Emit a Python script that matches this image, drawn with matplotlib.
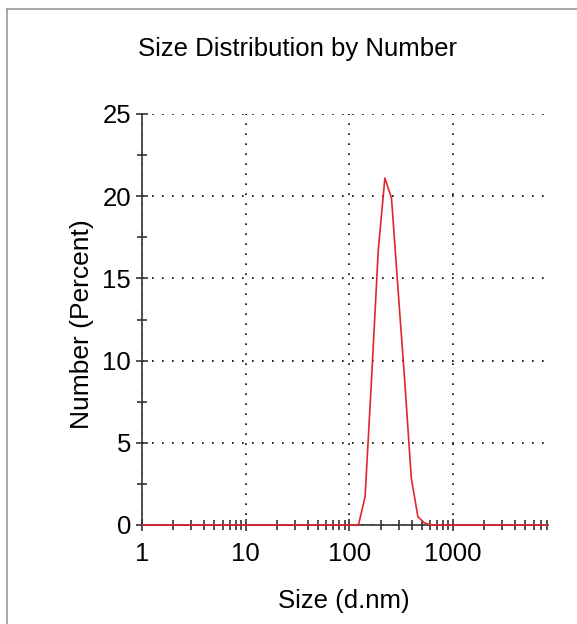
import matplotlib
matplotlib.use("Agg")
import matplotlib.pyplot as plt
from matplotlib.lines import Line2D
from matplotlib.patches import Rectangle
from matplotlib.ticker import FixedLocator, NullFormatter
import numpy as np

plt.rcParams['font.family'] = ['Liberation Sans', 'DejaVu Sans']

# size bins (d.nm) and number distribution (%)
sizes = [0.4, 0.4632, 0.5365, 0.6213, 0.7195, 0.8332, 0.9649, 1.117, 1.294, 1.499,
         1.736, 2.010, 2.328, 2.696, 3.122, 3.615, 4.187, 4.849, 5.615, 6.503,
         7.531, 8.721, 10.10, 11.70, 13.54, 15.69, 18.17, 21.04, 24.36, 28.21,
         32.67, 37.84, 43.82, 50.75, 58.77, 68.06, 78.82, 91.28, 105.7, 122.4,
         141.8, 164.2, 190.1, 220.2, 255.0, 295.3, 342.0, 396.1, 458.7, 531.2,
         615.1, 712.4, 825.0, 955.4, 1106, 1281, 1484, 1718, 1990, 2305,
         2669, 3091, 3580, 4145, 4801, 5560, 6439, 7456, 8635, 10000]
peak_sizes = [122.4, 141.8, 164.2, 190.1, 220.2, 255.0, 295.3, 342.0, 396.1, 458.7, 531.2]
peak_values = [0.0, 1.7, 9.0, 16.7, 21.1, 19.9, 14.3, 8.8, 2.85, 0.5, 0.12]
number_pct = [peak_values[peak_sizes.index(s)] if s in peak_sizes else 0.0 for s in sizes]

x_major = [1, 10, 100, 1000]
x_labels = ['1', '10', '100', '1000']
y_major = [0, 5, 10, 15, 20, 25]

fig = plt.figure(figsize=(5.77, 6.24), dpi=100)
ax = fig.add_axes([142 / 577, 1 - 525 / 624, 406 / 577, 411 / 624])

line, = ax.plot(sizes, number_pct, color='#e0262e', lw=1.2, zorder=5)
clip = Rectangle((0, -0.02), 1, 1.04, transform=ax.transAxes, visible=False)
line.set_clip_path(clip)

ax.set_xscale('log')
ax.set_xlim(1, 8250)
ax.set_ylim(0, 25)

ax.xaxis.set_major_locator(FixedLocator(x_major))
ax.set_xticklabels(x_labels)
minor_x = [m * 10 ** d for d in range(0, 4) for m in range(2, 10) if m * 10 ** d <= 8000]
ax.xaxis.set_minor_locator(FixedLocator(minor_x))
ax.xaxis.set_minor_formatter(NullFormatter())
ax.set_yticks(y_major)
ax.set_yticks(np.arange(2.5, 25, 5), minor=True)

ax.tick_params(axis='both', which='major', direction='inout', length=8, width=1.2,
               color='#333333', labelsize=18.5, pad=4)
ax.tick_params(axis='both', which='minor', direction='inout', length=7, width=1.2,
               color='#333333')
ax.tick_params(axis='x', which='major', pad=8)

for side in ['top', 'right']:
    ax.spines[side].set_visible(False)
for side in ['left', 'bottom']:
    ax.spines[side].set_color('#333333')
    ax.spines[side].set_linewidth(1.2)

ax.grid(True, which='major', color='black', linestyle=(0, (1, 5)), linewidth=1.2)

fig.text(298 / 577, 1 - 49 / 624, 'Size Distribution by Number', ha='center', va='center', fontsize=18.5)
fig.text(344 / 577, 1 - 601 / 624, 'Size (d.nm)', ha='center', va='center', fontsize=18.5)
fig.text(82 / 577, 1 - 324 / 624, 'Number (Percent)', ha='center', va='center', fontsize=19, rotation=90)

# outer frame (top and left edges)
fig.add_artist(Line2D([7 / 577, 1], [1 - 9 / 624, 1 - 9 / 624], transform=fig.transFigure, color='#999999', lw=1.2))
fig.add_artist(Line2D([7 / 577, 7 / 577], [0, 1 - 9 / 624], transform=fig.transFigure, color='#999999', lw=1.2))

fig.savefig('out.png', dpi=100)
